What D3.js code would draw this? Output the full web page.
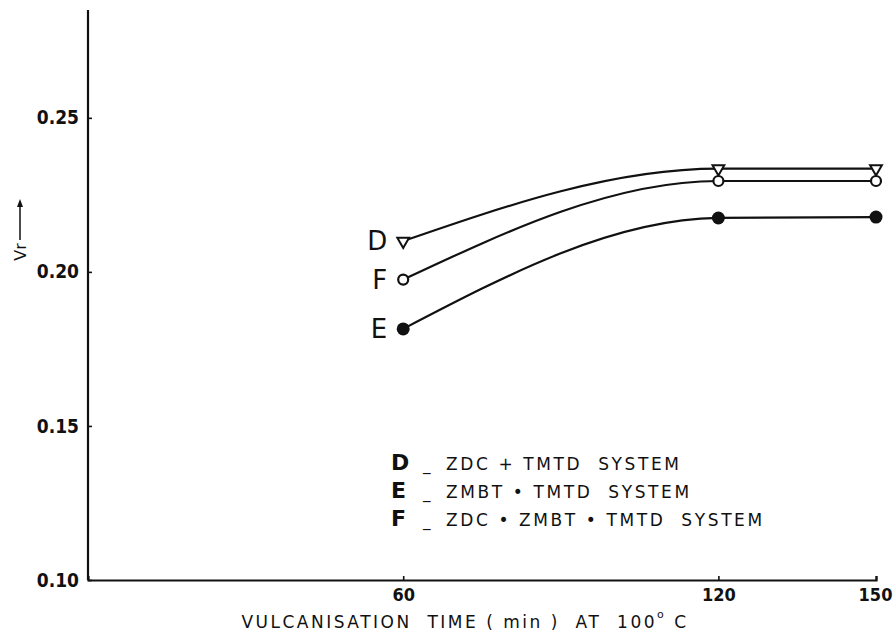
<!DOCTYPE html>
<html>
<head>
<meta charset="utf-8">
<script src="https://cdn.jsdelivr.net/npm/d3@7"></script>
<style>
  html, body { margin: 0; padding: 0; background: #fff; }
  svg { display: block; }
  .lab { font-family: "DejaVu Sans", sans-serif; fill: #111; }
  .tick-lab { font-family: "DejaVu Sans Condensed", "DejaVu Sans", sans-serif; font-weight: bold; fill: #111; }
</style>
</head>
<body>
<svg id="chart" width="893" height="635"></svg>
<script>
// ---- data ----
const times = [60, 120, 150];
const seriesNames = ["D", "F", "E"];
const seriesD = [0.210, 0.2335, 0.2335];
const seriesF = [0.1975, 0.2295, 0.2295];
const seriesE = [0.1815, 0.2175, 0.2178];
const xTicks = [60, 120, 150];
const yTicks = [0.10, 0.15, 0.20, 0.25];
const legendKeys = ["D", "E", "F"];
const legendTexts = ["ZDC + TMTD  SYSTEM", "ZMBT • TMTD  SYSTEM", "ZDC • ZMBT • TMTD  SYSTEM"];
const xTitle = "VULCANISATION  TIME ( min )  AT  100";
const yTitle = "Vr";

const svg = d3.select("#chart");
const x = d3.scaleLinear().domain([0, 150]).range([88, 876]);
const y = d3.scaleLinear().domain([0.10, 0.285]).range([580, 10]);

// axes
const gx = svg.append("g").attr("transform", `translate(0,${y(0.10)})`)
  .call(d3.axisBottom(x).tickValues(xTicks).tickSize(-4).tickPadding(9).tickFormat(d3.format("d")));
const gy = svg.append("g").attr("transform", `translate(${x(0)},0)`)
  .call(d3.axisLeft(y).tickValues(yTicks).tickSize(-4).tickPadding(8).tickFormat(d3.format(".2f")));
[gx, gy].forEach(g => {
  g.select(".domain").attr("stroke", "#111").attr("stroke-width", 2.2);
  g.selectAll(".tick line").attr("stroke", "#111").attr("stroke-width", 1.6);
  g.selectAll(".tick text").attr("class", "tick-lab").attr("font-size", 19).attr("fill", "#111");
});
gy.select(".domain").attr("d", `M0,${y(0.10)}V10`);
gx.selectAll(".tick text").attr("y", 15).attr("dy", "0.35em").attr("font-size", 18)
  .attr("dx", d => d === 150 ? -1 : 0);
gy.selectAll(".tick text").attr("dx", "-1");

// lines
const line = d3.line().x((d, i) => x(times[i])).y(d => y(d)).curve(d3.curveMonotoneX);
const allSeries = { D: seriesD, F: seriesF, E: seriesE };
seriesNames.forEach(name => {
  svg.append("path").datum(allSeries[name])
    .attr("d", line).attr("fill", "none").attr("stroke", "#111").attr("stroke-width", 2.2);
});

// markers
svg.selectAll(".mD").data(seriesD).enter().append("path")
  .attr("d", d3.symbol().type(d3.symbolTriangle).size(60))
  .attr("transform", (d, i) => `translate(${x(times[i])},${y(d)}) rotate(180)`)
  .attr("fill", "#fff").attr("stroke", "#111").attr("stroke-width", 2);
svg.selectAll(".mF").data(seriesF).enter().append("circle")
  .attr("cx", (d, i) => x(times[i])).attr("cy", d => y(d)).attr("r", 5)
  .attr("fill", "#fff").attr("stroke", "#111").attr("stroke-width", 2.2);
svg.selectAll(".mE").data(seriesE).enter().append("circle")
  .attr("cx", (d, i) => x(times[i])).attr("cy", d => y(d)).attr("r", 6.5)
  .attr("fill", "#111");

// series labels
seriesNames.forEach(name => {
  svg.append("text").attr("class", "lab")
    .attr("x", x(times[0]) - 16).attr("y", y(allSeries[name][0]))
    .attr("text-anchor", "end").attr("dominant-baseline", "central")
    .attr("font-size", 26).text(name);
});

// legend
legendKeys.forEach((k, i) => {
  const yy = 462 + i * 28;
  svg.append("text").attr("class", "lab").attr("x", 391).attr("y", yy)
    .attr("dominant-baseline", "central").attr("font-size", 22).attr("font-weight", "bold").text(k);
  svg.append("text").attr("class", "lab").attr("x", 423).attr("y", yy + 3)
    .attr("dominant-baseline", "central").attr("font-size", 15).text("_");
  svg.append("text").attr("class", "lab").attr("x", 446).attr("y", yy + 2)
    .attr("dominant-baseline", "central").attr("font-size", 17).attr("letter-spacing", 2.6)
    .style("white-space", "pre").text(legendTexts[i]);
});

// x title
const xt = svg.append("text").attr("class", "lab").attr("x", 465).attr("y", 628)
  .attr("text-anchor", "middle").attr("font-size", 17).attr("letter-spacing", 2.5)
  .style("white-space", "pre");
xt.append("tspan").text(xTitle);
xt.append("tspan").attr("dy", -10).attr("font-size", 11).text("o");
xt.append("tspan").attr("dy", 10).text(" C");

// y title with arrow
const yl = svg.append("g").attr("transform", "translate(20,252) rotate(-90)");
yl.append("text").attr("class", "lab").attr("x", 0).attr("y", 0)
  .attr("text-anchor", "middle").attr("dominant-baseline", "central").attr("font-size", 16).text(yTitle);
yl.append("line").attr("x1", 12).attr("x2", 48).attr("y1", 0).attr("y2", 0)
  .attr("stroke", "#111").attr("stroke-width", 1.5);
yl.append("path").attr("d", "M53,0 L45,-3 L45,3 Z").attr("fill", "#111");
</script>
</body>
</html>
